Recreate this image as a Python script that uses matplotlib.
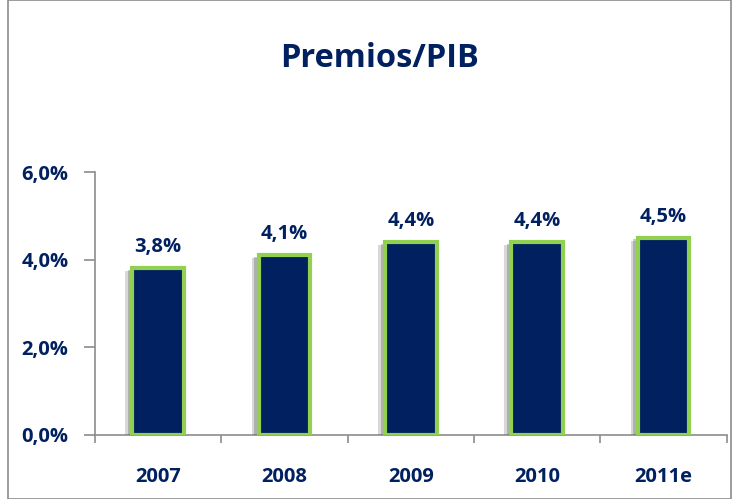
import matplotlib
matplotlib.use("Agg")
from matplotlib import pyplot as plt
from matplotlib import patheffects as pe
from matplotlib.patches import Rectangle

years = ["2007", "2008", "2009", "2010", "2011e"]
values = [3.8, 4.1, 4.4, 4.4, 4.5]
labels = ["3,8%", "4,1%", "4,4%", "4,4%", "4,5%"]
yticks = [0, 2, 4, 6]
ytick_labels = ["0,0%", "2,0%", "4,0%", "6,0%"]

navy = "#002060"
green = "#92D050"
plt.rcParams['font.family'] = ['Open Sans', 'DejaVu Sans']

fig = plt.figure(figsize=(7.32, 4.99), dpi=100)
fig.patches.append(Rectangle((0.011, 0.0), 0.987, 0.999, transform=fig.transFigure,
                             fill=False, edgecolor="#8c8c8c", linewidth=1.2))
ax = fig.add_axes([0.1298, 0.1283, 0.863, 0.527])

x = range(len(years))
bars = ax.bar(x, values, width=0.41, color=navy, edgecolor=green, linewidth=3, zorder=3)
# soft grey shadow to the lower left
for b in bars:
    b.set_path_effects([pe.SimplePatchShadow(offset=(-5, -2), shadow_rgbFace="#666666", alpha=0.25),
                        pe.SimplePatchShadow(offset=(-3, -1), shadow_rgbFace="#555555", alpha=0.3),
                        pe.Normal()])

for i, v in enumerate(values):
    ax.annotate(labels[i], (i, v), xytext=(0, 8), textcoords="offset points",
                ha="center", va="bottom", fontsize=14.5, fontweight="bold", color=navy)

ax.set_xlim(-0.5, len(years) - 0.5)
ax.set_ylim(0, 6)
ax.set_yticks(yticks)
ax.set_yticklabels(ytick_labels)
ax.set_xticks(list(x))
ax.set_xticklabels(years)
ax.set_xticks([i + 0.5 for i in range(-1, len(years))], minor=True)

for s in ["top", "right"]:
    ax.spines[s].set_visible(False)
for s in ["left", "bottom"]:
    ax.spines[s].set_color("#8c8c8c")
    ax.spines[s].set_linewidth(1.2)

ax.tick_params(axis="y", length=8, width=1.2, color="#8c8c8c", pad=11,
               labelsize=14.5, labelcolor=navy)
ax.tick_params(axis="x", which="major", length=0, pad=23, labelsize=14.5, labelcolor=navy)
ax.tick_params(axis="x", which="minor", length=6, width=1.2, color="#8c8c8c")
for t in ax.get_xticklabels() + ax.get_yticklabels():
    t.set_fontweight("bold")

fig.text(0.518, 0.883, "Premios/PIB", ha="center", va="center", fontsize=23.5,
         fontweight="bold", color=navy)

fig.savefig("out.png", dpi=100)
